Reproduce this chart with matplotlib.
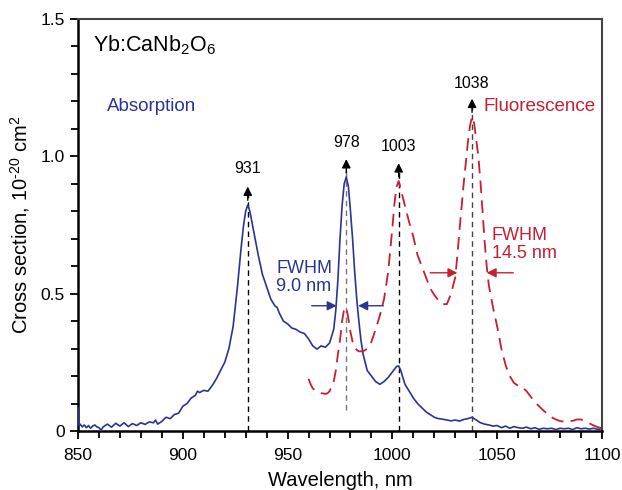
import matplotlib
matplotlib.use('Agg')
import matplotlib.pyplot as plt
from matplotlib.ticker import MultipleLocator, FixedLocator

plt.rcParams['font.family'] = ['Liberation Sans', 'DejaVu Sans']
plt.rcParams['mathtext.fontset'] = 'custom'
plt.rcParams['mathtext.rm'] = 'Liberation Sans'
plt.rcParams['mathtext.it'] = 'Liberation Sans'

BLUE = '#2b3494'
RED = '#c81e32'

# absorption cross section (solid blue)
abs_wl = [850, 850.5, 851, 852, 853, 854, 855, 856, 857, 858, 859, 860, 861, 862, 864, 866, 868,
          870, 872, 874, 876, 878, 880, 882, 884, 886, 887, 888, 890, 892, 894, 896, 898, 900,
          902, 904, 906, 907, 908, 910, 912, 914, 916, 918, 920, 922, 924, 926, 927, 928, 929,
          930, 931, 932, 933, 934, 935, 936, 938, 940, 942, 944, 945, 946, 948, 950, 952, 954,
          956, 958, 960, 962, 964, 966, 968, 970, 972, 973, 974, 975, 976, 977, 978, 979, 980,
          981, 982, 983, 984, 985, 986, 988, 990, 992, 994, 996, 998, 1000, 1001, 1002, 1003,
          1004, 1005, 1006, 1008, 1010, 1012, 1014, 1016, 1018, 1020, 1022, 1024, 1026, 1028,
          1030, 1032, 1034, 1036, 1038, 1040, 1042, 1044, 1046, 1048, 1050, 1052, 1054, 1056,
          1058, 1060, 1062, 1064, 1066, 1068, 1070, 1072, 1074, 1076, 1078, 1080, 1082, 1084,
          1086, 1088, 1090, 1092, 1094, 1096, 1098, 1100]
abs_val = [0.085, 0.02, 0.025, 0.015, 0.022, 0.012, 0.02, 0.01, 0.018, 0.022, 0.015, 0.012, 0.003,
           0.015, 0.025, 0.014, 0.028, 0.018, 0.03, 0.016, 0.027, 0.02, 0.03, 0.024, 0.033, 0.03,
           0.04, 0.025, 0.035, 0.05, 0.045, 0.06, 0.065, 0.09, 0.1, 0.12, 0.13, 0.145, 0.14, 0.148,
           0.145, 0.165, 0.19, 0.22, 0.25, 0.3, 0.38, 0.52, 0.6, 0.68, 0.75, 0.8, 0.823, 0.8, 0.76,
           0.72, 0.68, 0.64, 0.57, 0.525, 0.48, 0.455, 0.45, 0.43, 0.4, 0.39, 0.375, 0.37, 0.36,
           0.355, 0.335, 0.31, 0.298, 0.31, 0.305, 0.32, 0.37, 0.44, 0.55, 0.7, 0.82, 0.9, 0.925,
           0.89, 0.8, 0.7, 0.58, 0.48, 0.4, 0.33, 0.28, 0.22, 0.2, 0.18, 0.17, 0.18, 0.195, 0.215,
           0.225, 0.235, 0.237, 0.22, 0.195, 0.17, 0.145, 0.12, 0.1, 0.085, 0.07, 0.06, 0.05, 0.045,
           0.043, 0.04, 0.037, 0.04, 0.036, 0.042, 0.045, 0.05, 0.04, 0.03, 0.025, 0.022, 0.018,
           0.02, 0.012, 0.018, 0.01, 0.016, 0.012, 0.01, 0.014, 0.008, 0.012, 0.006, 0.01, 0.008,
           0.01, 0.005, 0.01, 0.008, 0.01, 0.005, 0.012, 0.008, 0.01, 0.007, 0.01, 0.006, 0.008]

# fluorescence cross section (dashed red)
fl_wl = [960, 961, 962, 964, 966, 968, 969, 970, 971, 972, 973, 974, 975, 976, 977, 978, 979, 980,
         981, 982, 983, 984, 986, 988, 990, 992, 994, 996, 998, 1000, 1001, 1002, 1003, 1004, 1006,
         1008, 1010, 1012, 1014, 1016, 1018, 1020, 1022, 1024, 1026, 1028, 1030, 1031, 1032, 1034,
         1036, 1037, 1038, 1039, 1040, 1041, 1042, 1044, 1045, 1046, 1048, 1050, 1052, 1054, 1056,
         1058, 1060, 1062, 1064, 1066, 1068, 1070, 1072, 1074, 1076, 1078, 1080, 1082, 1084, 1086,
         1088, 1090, 1092, 1094, 1096, 1098, 1100]
fl_val = [0.19, 0.17, 0.155, 0.145, 0.138, 0.135, 0.137, 0.145, 0.16, 0.18, 0.22, 0.28, 0.33, 0.4,
          0.445, 0.45, 0.41, 0.36, 0.325, 0.305, 0.295, 0.29, 0.29, 0.3, 0.325, 0.37, 0.42, 0.48,
          0.58, 0.74, 0.83, 0.89, 0.91, 0.88, 0.82, 0.76, 0.707, 0.64, 0.6, 0.56, 0.52, 0.495,
          0.475, 0.462, 0.462, 0.5, 0.56, 0.64, 0.73, 0.9, 1.05, 1.11, 1.145, 1.12, 1.06, 1.0, 0.91,
          0.69, 0.6, 0.53, 0.45, 0.38, 0.3, 0.24, 0.2, 0.175, 0.165, 0.16, 0.145, 0.125, 0.105,
          0.09, 0.075, 0.062, 0.05, 0.042, 0.036, 0.034, 0.035, 0.037, 0.042, 0.042, 0.035, 0.028,
          0.02, 0.014, 0.01]

# peak markers: wavelength, bottom of dashed line, arrow tip, label height
peak_wl = [931, 978, 1003, 1038]
peak_base = [0.0, 0.077, 0.0, 0.0]
peak_tip = [0.89, 0.99, 0.975, 1.21]
peak_label_y = [0.955, 1.05, 1.035, 1.265]
peak_colors = ['black', '#777777', 'black', '#444444']

fig = plt.figure(figsize=(6.22, 4.90), dpi=100)
ax = fig.add_axes([78 / 622, 59 / 490, 524 / 622, 412 / 490])

ax.plot(abs_wl, abs_val, color=BLUE, lw=1.2, zorder=3)
ax.plot(fl_wl, fl_val, color=RED, lw=1.3, dashes=(7, 4), zorder=3)

for wl, y0, tip, ly, c in zip(peak_wl, peak_base, peak_tip, peak_label_y, peak_colors):
    ax.plot([wl, wl], [y0, tip - 0.03], color=c, lw=1.0, dashes=(4, 3), zorder=2)
    ax.annotate('', xy=(wl, tip), xytext=(wl, tip - 0.05),
                arrowprops=dict(arrowstyle='-|>', color='black', lw=1.0,
                                mutation_scale=13, shrinkA=0, shrinkB=0))
    ax.text(wl, ly, str(wl), ha='center', va='center', fontsize=11.5, color='black')

# FWHM arrows
def fwhm_arrow(x_from, x_to, y, color):
    ax.annotate('', xy=(x_to, y), xytext=(x_from, y),
                arrowprops=dict(arrowstyle='-|>', color=color, lw=1.0,
                                mutation_scale=14, shrinkA=0, shrinkB=0))

fwhm_arrow(961.5, 973.4, 0.456, BLUE)
fwhm_arrow(995.7, 983.7, 0.456, BLUE)
fwhm_arrow(1018, 1031, 0.576, RED)
fwhm_arrow(1057.7, 1045, 0.576, RED)

ax.text(944.5, 0.56, 'FWHM\n9.0 nm', color=BLUE, fontsize=13, ha='left', va='center',
        linespacing=1.05)
ax.text(1047.4, 0.68, 'FWHM\n14.5 nm', color=RED, fontsize=13, ha='left', va='center',
        linespacing=1.05)

ax.text(857, 1.405, 'Yb:CaNb$_2$O$_6$', fontsize=15.5, ha='left', va='center')
ax.text(864, 1.18, 'Absorption', color=BLUE, fontsize=13.5, ha='left', va='center')
ax.text(1043.4, 1.18, 'Fluorescence', color=RED, fontsize=13.5, ha='left', va='center')

ax.set_xlim(850, 1100)
ax.set_ylim(0, 1.5)
ax.xaxis.set_major_locator(MultipleLocator(50))
ax.xaxis.set_minor_locator(MultipleLocator(10))
ax.yaxis.set_major_locator(FixedLocator([0, 0.5, 1.0, 1.5]))
ax.yaxis.set_minor_locator(MultipleLocator(0.1))
ax.set_yticklabels(['0', '0.5', '1.0', '1.5'])
ax.tick_params(which='both', direction='out', width=1.3, labelsize=12.5)
ax.tick_params(which='major', length=6)
ax.tick_params(which='minor', length=5)
ax.tick_params(axis='x', pad=6)

for s in ['left', 'bottom']:
    ax.spines[s].set_linewidth(1.8)
for s in ['top', 'right']:
    ax.spines[s].set_linewidth(1.5)
    ax.spines[s].set_color('#444444')

ax.set_xlabel('Wavelength, nm', fontsize=14.5, labelpad=6)
ax.set_ylabel('Cross section, 10$^{\u2010 20}$ cm$^2$', fontsize=14.5, labelpad=6)

fig.savefig('out.png', dpi=100)
